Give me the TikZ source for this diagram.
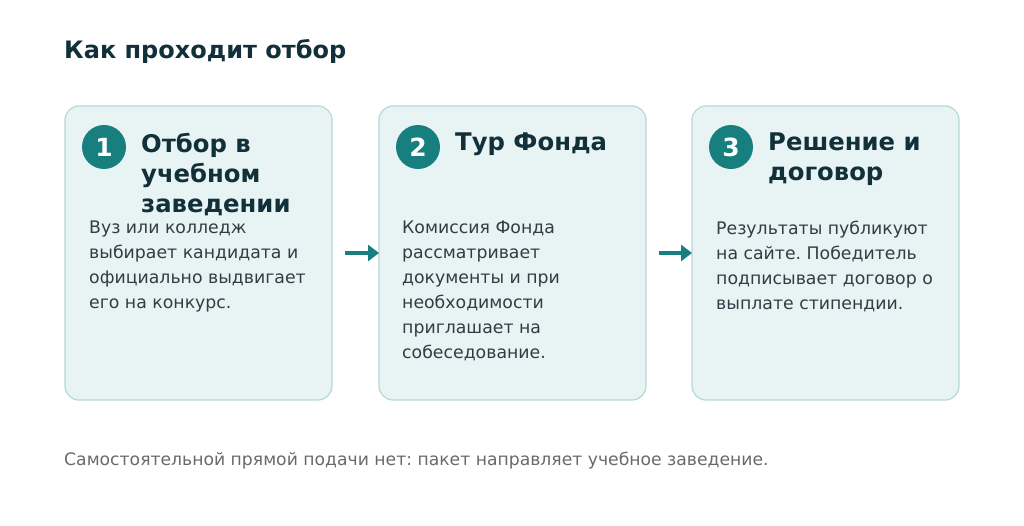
\documentclass[tikz,border=0pt]{standalone}
\usepackage{fontspec}
\setmainfont{DejaVu Sans}
\usetikzlibrary{arrows.meta}
\definecolor{teal1}{HTML}{17807F}
\definecolor{boxfill}{HTML}{E8F4F4}
\definecolor{boxline}{HTML}{B3D9D4}
\definecolor{dark}{HTML}{12303A}
\definecolor{body}{HTML}{2E3E44}
\definecolor{foot}{HTML}{666A6C}
\begin{document}
\frenchspacing
\begin{tikzpicture}[x=1pt,y=-1pt,
 box/.style={draw=boxline,line width=1.2pt,fill=boxfill,rounded corners=14pt},
 num/.style={circle,fill=teal1,minimum size=44pt,inner sep=0pt,text=white,font=\fontsize{25}{25}\selectfont\bfseries},
 head/.style={anchor=north west,align=left,inner sep=0pt,text=dark,font=\fontsize{24.3}{30}\selectfont\bfseries},
 txt/.style={anchor=north west,align=left,inner sep=0pt,text=body,font=\fontsize{17.3}{25}\selectfont},
 arr/.style={draw=teal1,line width=4.5pt,-{Triangle[length=11pt,width=16pt]}}]
\useasboundingbox (0,0) rectangle (1024,525);
\node[anchor=base west,inner sep=0pt,text=dark,font=\fontsize{24}{28}\selectfont\bfseries] (title) at (64,58) {Как проходит отбор};
\foreach \i/\x in {1/65,2/379,3/692}{
 \draw[box] (\x,106) rectangle ++(267,294);
 \node[num] (n\i) at (\x+39,147) {\i};
}
\node[head] (h1) at (141,133) {Отбор в\\учебном\\заведении};
\node[head] (h2) at (455,133) {Тур Фонда};
\node[head] (h3) at (768,133) {Решение и\\договор};
\node[txt] (t1) at (89,221) {Вуз или колледж\\выбирает кандидата и\\официально выдвигает\\его на конкурс.};
\node[txt] (t2) at (402,221) {Комиссия Фонда\\рассматривает\\документы и при\\необходимости\\приглашает на\\собеседование.};
\node[txt] (t3) at (716,221) {Результаты публикуют\\на сайте. Победитель\\подписывает договор о\\выплате стипендии.};
\coordinate (a1s) at (345,253); \coordinate (a1e) at (379,253);
\coordinate (a2s) at (659,253); \coordinate (a2e) at (692,253);
\draw[arr] (a1s) -- (a1e);
\draw[arr] (a2s) -- (a2e);
\node[anchor=base west,inner sep=0pt,text=foot,font=\fontsize{17.2}{20}\selectfont] (foot) at (64,465) {Самостоятельной прямой подачи нет: пакет направляет учебное заведение.};
\end{tikzpicture}
\end{document}
